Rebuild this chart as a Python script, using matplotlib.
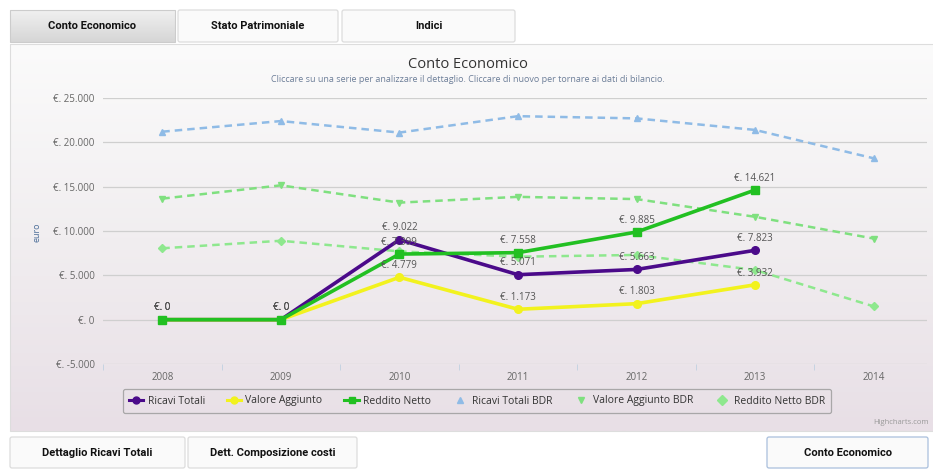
import matplotlib
matplotlib.use("Agg")
import matplotlib.pyplot as plt
import numpy as np
from matplotlib.patches import FancyBboxPatch, Rectangle
from matplotlib.colors import LinearSegmentedColormap
from matplotlib.lines import Line2D

plt.rcParams["font.family"] = ["Open Sans", "DejaVu Sans"]

# dati
years = ["2008", "2009", "2010", "2011", "2012", "2013", "2014"]
ricavi_totali = [0, 0, 9022, 5071, 5663, 7823]
valore_aggiunto = [0, 0, 4779, 1173, 1803, 3932]
reddito_netto = [0, 0, 7399, 7558, 9885, 14621]
ricavi_totali_bdr = [21200, 22400, 21100, 22950, 22700, 21400, 18200]
valore_aggiunto_bdr = [13650, 15150, 13200, 13850, 13600, 11600, 9150]
reddito_netto_bdr = [8050, 8900, 7700, 7100, 7300, 5600, 1500]
y_ticks = [-5000, 0, 5000, 10000, 15000, 20000, 25000]

W, H = 933, 470


def eur(v):
    return "€. " + f"{v:,}".replace(",", ".")


fig = plt.figure(figsize=(W / 100, H / 100), dpi=100)
fig.patch.set_facecolor("white")

# sfondo / elementi di pagina in coordinate pixel
bg = fig.add_axes([0, 0, 1, 1])
bg.set_xlim(0, W)
bg.set_ylim(H, 0)
bg.axis("off")

# contenitore del grafico con gradiente
cmap_bg = LinearSegmentedColormap.from_list("bg", ["#fbfbfb", "#f1eef0", "#e8dfe6"])
grad = np.linspace(0, 1, 256).reshape(-1, 1)
bg.imshow(grad, cmap=cmap_bg, aspect="auto", extent=[10, 945, 431, 44], zorder=0)
bg.add_patch(Rectangle((10, 44), 935, 387, fill=False, ec="#dddddd", lw=0.8, zorder=1))


def button(x0, x1, y0, y1, text, active=False, edge="#dcdcdc"):
    if active:
        g = np.linspace(0, 1, 64).reshape(-1, 1)
        cm = LinearSegmentedColormap.from_list("tab", ["#f0f0f0", "#d6d6d6"])
        bg.imshow(g, cmap=cm, aspect="auto", extent=[x0, x1, y1, y0], zorder=1)
        bg.add_patch(Rectangle((x0, y0), x1 - x0, y1 - y0, fill=False, ec="#cccccc", lw=0.8, zorder=2))
    else:
        bg.add_patch(FancyBboxPatch((x0, y0), x1 - x0, y1 - y0, boxstyle="round,pad=0,rounding_size=2",
                                    fc="#fafafa", ec=edge, lw=0.9, zorder=2))
    bg.text((x0 + x1) / 2, (y0 + y1) / 2, text, ha="center", va="center", fontsize=8,
            fontweight="bold", color="#111111", zorder=3, family=["Roboto", "DejaVu Sans"])


button(10, 175, 10, 42, "Conto Economico", active=True)
button(178, 338, 10, 42, "Stato Patrimoniale")
button(342, 515, 10, 42, "Indici")
button(10, 185, 437, 468, "Dettaglio Ricavi Totali")
button(188, 357, 437, 468, "Dett. Composizione costi")
button(767, 928, 437, 468, "Conto Economico", edge="#a9bfdc")

bg.text(468, 64, "Conto Economico", ha="center", va="center", fontsize=10.5, color="#333333")
bg.text(468, 79, "Cliccare su una serie per analizzare il dettaglio. Cliccare di nuovo per tornare ai dati di bilancio.",
        ha="center", va="center", fontsize=6.5, color="#6d7f99")
bg.text(37, 232, "euro", ha="center", va="center", rotation=90, fontsize=6.5, color="#4d6f99")
bg.text(929, 423, "Highcharts.com", ha="right", va="center", fontsize=5.5, color="#999999")

# area del grafico
ax = fig.add_axes([103 / W, 1 - 364 / H, (927 - 103) / W, (364 - 98) / H])
ax.set_facecolor("none")
ax.set_xlim(-0.5, 6.45)
ax.set_ylim(-5000, 25000)
ax.set_yticks(y_ticks)
ax.set_yticklabels([eur(v) for v in y_ticks])
ax.set_xticks(range(len(years)))
ax.set_xticklabels(years)
ax.set_xticks(np.arange(-0.5, 6.5, 1), minor=True)
ax.grid(axis="y", color="#cfcfcf", lw=0.9)
ax.set_axisbelow(True)
for s in ax.spines.values():
    s.set_visible(False)
ax.tick_params(axis="y", length=0, labelsize=7, labelcolor="#666666", pad=6)
ax.tick_params(axis="x", which="major", length=0, labelsize=7, labelcolor="#666666", pad=6)
ax.tick_params(axis="x", which="minor", length=4, color="#c0d0e0", direction="out")

x6 = np.arange(6)
x7 = np.arange(7)

series_bdr = [
    ("Ricavi Totali BDR", ricavi_totali_bdr, "#8fbbe6", "^"),
    ("Valore Aggiunto BDR", valore_aggiunto_bdr, "#7fe07f", "v"),
    ("Reddito Netto BDR", reddito_netto_bdr, "#8ee88e", "D"),
]
series_main = [
    ("Ricavi Totali", ricavi_totali, "#4b0a8a", "o"),
    ("Valore Aggiunto", valore_aggiunto, "#f2f21e", "o"),
    ("Reddito Netto", reddito_netto, "#22c022", "s"),
]

handles = {}
for name, vals, col, mk in series_bdr:
    line, = ax.plot(x7, vals, color=col, lw=1.8, ls=(0, (3, 2)), marker=mk, ms=4,
                    mfc=col, mec=col, zorder=2, label=name)
    handles[name] = line

for name, vals, col, mk in series_main:
    line, = ax.plot(x6, vals, color=col, lw=2.6, marker=mk, ms=5.5, mfc=col, mec=col,
                    zorder=3, label=name)
    handles[name] = line
    for xi, v in zip(x6, vals):
        ax.annotate(eur(v), (xi, v), xytext=(0, 4.5), textcoords="offset points", ha="center",
                    va="bottom", fontsize=7, color="#555555", zorder=4)

order = ["Ricavi Totali", "Valore Aggiunto", "Reddito Netto",
         "Ricavi Totali BDR", "Valore Aggiunto BDR", "Reddito Netto BDR"]
leg_h = []
for n in order:
    h = handles[n]
    leg_h.append(Line2D([], [], color=h.get_color(), lw=2.2 if "BDR" not in n else 0,
                        marker=h.get_marker(), ms=5, mfc=h.get_color(), mec=h.get_color()))
leg = fig.legend(leg_h, order, loc="center", bbox_to_anchor=(477 / W, 1 - 401 / H), ncol=6,
                 fontsize=7.5, handlelength=1.4, handletextpad=0.4, columnspacing=2.1,
                 frameon=True, fancybox=True, borderpad=0.6)
leg.get_frame().set_edgecolor("#999999")
leg.get_frame().set_facecolor("none")
leg.get_frame().set_linewidth(0.9)
for t in leg.get_texts():
    t.set_color("#333333")

fig.savefig("out.png", dpi=100)
